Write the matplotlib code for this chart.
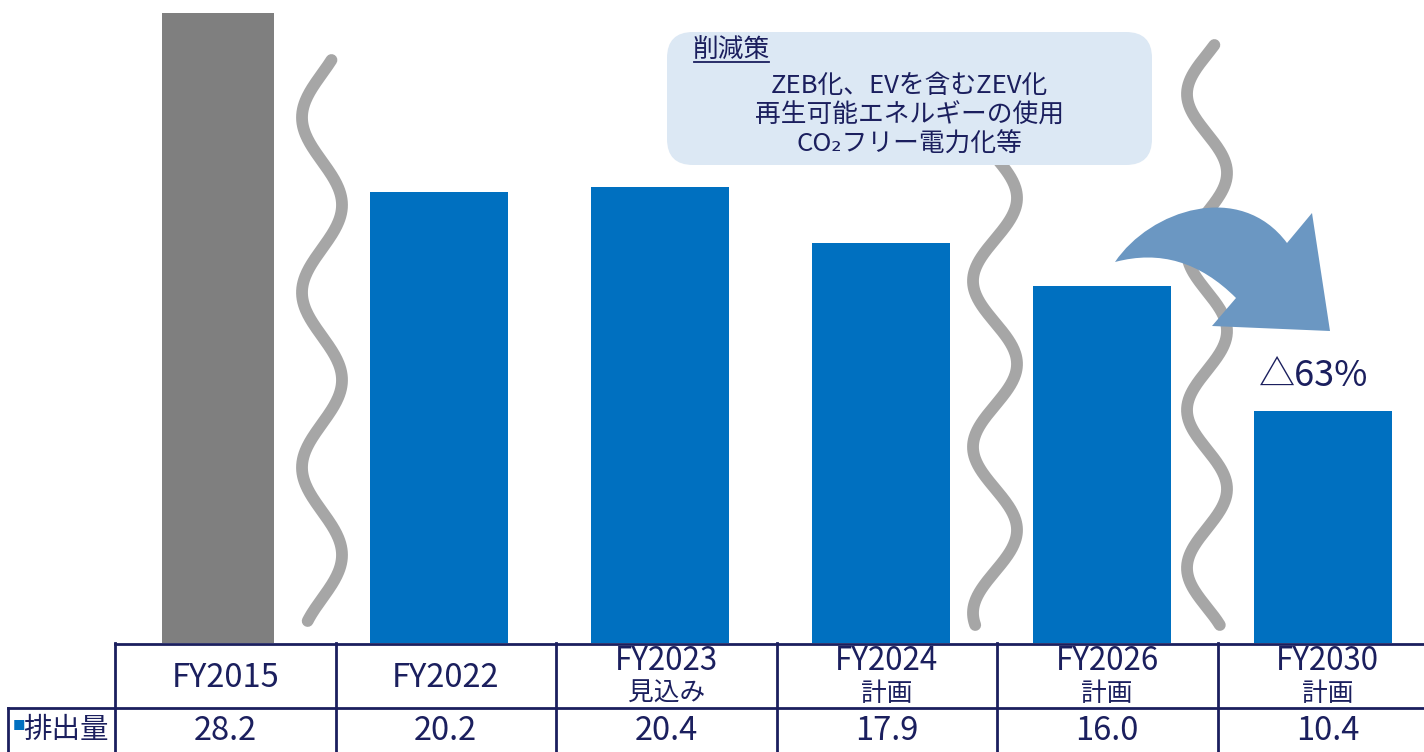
import numpy as np
import matplotlib
matplotlib.use("Agg")
import matplotlib.pyplot as plt
from matplotlib.patches import FancyBboxPatch, PathPatch
from matplotlib.path import Path

plt.rcParams['font.family'] = ['Noto Sans CJK JP', 'DejaVu Sans']

# -----------------------------
# data
# -----------------------------
years = ["FY2015", "FY2022", "FY2023", "FY2024", "FY2026", "FY2030"]
notes = ["", "", "見込み", "計画", "計画", "計画"]
emissions = [28.2, 20.2, 20.4, 17.9, 16.0, 10.4]
row_label = "排出量"
box_title = "削減策"
measures = ["ZEB化、EVを含むZEV化", "再生可能エネルギーの使用", "CO₂フリー電力化等"]
reduction_label = "△63%"

# -----------------------------
# style / layout (pixels)
# -----------------------------
W, H = 1424, 752
NAVY = "#1b1f5e"
BLUE = "#0070c0"
GRAY_BAR = "#7f7f7f"
WAVE = "#a6a6a6"
ARROW = "#6b97c2"
BOX = "#dce8f4"

col_left = 115      # left edge of first table column
col_w = 220.5       # table column width
bar_c0 = 218        # centre of first bar
bar_step = 221.0    # spacing between bars
base_y = 643        # bar baseline / table top
mid_y = 708         # line between header row and value row
px_per_unit = 22.33

fig = plt.figure(figsize=(W / 100, H / 100), dpi=100)
fig.patch.set_facecolor("white")

# -----------------------------
# bars
# -----------------------------
ax = fig.add_axes([0, 1 - base_y / H, 1, base_y / H])
bx0 = -bar_c0 / bar_step
ax.set_xlim(bx0, bx0 + W / bar_step)
ax.set_ylim(0, base_y / px_per_unit)
ax.axis("off")

x = np.arange(len(years))
widths = [0.51] + [0.625] * (len(years) - 1)
colors = [GRAY_BAR] + [BLUE] * (len(years) - 1)
ax.bar(x, emissions, width=widths, color=colors, zorder=2)

# -----------------------------
# table below the bars
# -----------------------------
tax = fig.add_axes([0, 0, 1, 1 - base_y / H])
x0 = -0.5 - col_left / col_w
tax.set_xlim(x0, x0 + W / col_w)
tax.set_ylim(H, base_y)
tax.axis("off")

lw = 2.0
right = x0 + W / col_w + 1
tax.plot([-0.5, right], [base_y + 1, base_y + 1], color=NAVY, lw=lw, clip_on=False)
tax.plot([x0 + 8 / col_w, right], [mid_y, mid_y], color=NAVY, lw=lw, clip_on=False)
for k in range(len(years) + 1):
    tax.plot([k - 0.5, k - 0.5], [base_y, H], color=NAVY, lw=lw, clip_on=False)
tax.plot([x0 + 8 / col_w] * 2, [mid_y, H], color=NAVY, lw=lw, clip_on=False)

for i, (yr, nt, v) in enumerate(zip(years, notes, emissions)):
    if nt:
        tax.text(i, 661, yr, ha="center", va="center", fontsize=22.5, color=NAVY)
        tax.text(i, 694, nt, ha="center", va="center", fontsize=18.5, color=NAVY)
    else:
        tax.text(i, 678, yr, ha="center", va="center", fontsize=23.5, color=NAVY)
    tax.text(i, 731, f"{v:.1f}", ha="center", va="center", fontsize=23.5, color=NAVY)

tax.text(x0 + 19 / col_w, 727, "■", ha="center", va="center", fontsize=9, color=BLUE)
tax.text(x0 + 66 / col_w, 730, row_label, ha="center", va="center",
         fontsize=20.5, color=NAVY)

# -----------------------------
# overlay: waves, callout box, arrow
# -----------------------------
ov = fig.add_axes([0, 0, 1, 1])
ov.set_xlim(0, W)
ov.set_ylim(H, 0)
ov.axis("off")


def wave(cx, y0, y1, y_peak, period, amp):
    yy = np.linspace(y0, y1, 400)
    xx = cx + amp * np.cos(2 * np.pi * (yy - y_peak) / period)
    ov.plot(xx, yy, color=WAVE, lw=8.5, solid_capstyle="round", zorder=1)


wave(322, 60, 621, 30, 175, 20)
wave(995, 160, 625, 198, 166, 22)
wave(1207, 45, 625, 15, 158, 20)

box = FancyBboxPatch((667, 32), 485, 133, boxstyle="round,pad=0,rounding_size=26",
                     facecolor=BOX, edgecolor="none", zorder=2)
ov.add_patch(box)

title = ov.text(693, 51, box_title, ha="left", va="center", fontsize=18.5,
                color=NAVY, zorder=3)
for j, line in enumerate(measures):
    ov.text(909, 86 + 29.5 * j, line, ha="center", va="center", fontsize=18.5,
            color=NAVY, zorder=3)

fig.canvas.draw()
bb = title.get_window_extent().transformed(ov.transData.inverted())
ov.plot([bb.x0 + 1, bb.x1 - 1], [max(bb.y0, bb.y1) - 2] * 2, color=NAVY, lw=1.3, zorder=3)

# curved arrow
verts = [
    (1115, 262),
    (1150, 210), (1240, 180), (1287, 243),
    (1312, 213),
    (1330, 331),
    (1212, 326),
    (1236, 298),
    (1200, 262), (1160, 250), (1115, 262),
    (1115, 262),
]
codes = [Path.MOVETO,
         Path.CURVE4, Path.CURVE4, Path.CURVE4,
         Path.LINETO, Path.LINETO, Path.LINETO, Path.LINETO,
         Path.CURVE4, Path.CURVE4, Path.CURVE4,
         Path.CLOSEPOLY]
ov.add_patch(PathPatch(Path(verts, codes), facecolor=ARROW, edgecolor="none", zorder=4))

ov.text(1314, 376, reduction_label, ha="center", va="center", fontsize=26,
        color=NAVY, zorder=4)

fig.savefig("out.png", dpi=100, facecolor="white")
